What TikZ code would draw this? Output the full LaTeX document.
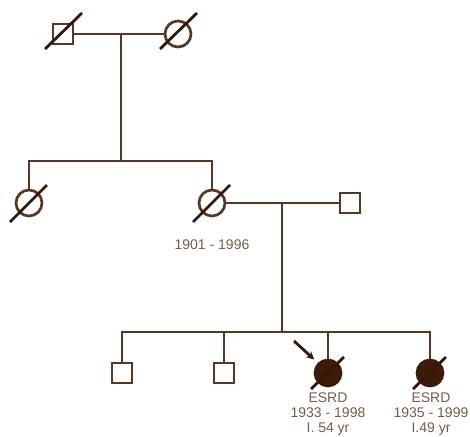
\documentclass[tikz,border=0pt]{standalone}
\usepackage{fontspec}
\setmainfont{Liberation Sans}
\usetikzlibrary{arrows.meta}
\definecolor{ln}{RGB}{88,56,34}
\definecolor{sl}{RGB}{50,24,10}
\definecolor{fillb}{RGB}{62,26,8}
\definecolor{txt}{RGB}{120,90,72}
\begin{document}
\begin{tikzpicture}[x=1pt,y=-1pt,
  male/.style={draw=ln, line width=2.7pt, fill=white, minimum size=20pt, inner sep=0pt, shape=rectangle},
  female/.style={draw=ln, line width=2.7pt, fill=white, minimum size=26pt, inner sep=0pt, shape=circle},
  affected/.style={female, fill=fillb, draw=fillb},
  lbl/.style={text=txt, font=\fontsize{14}{15}\selectfont, align=center, inner sep=0pt},
  link/.style={draw=ln, line width=2.7pt},
  slash/.style={draw=sl, line width=2.8pt}
]
\useasboundingbox (0,0) rectangle (470,436);
% generation I
\node[male] (m1) at (63,34) {};
\node[female] (f1) at (178,34) {};
% generation II
\node[female] (f2) at (29,203) {};
\node[female] (f3) at (212,203) {};
\node[male] (m2) at (350,203) {};
% generation III
\node[male] (s1) at (122,373) {};
\node[male] (s2) at (224,373) {};
\node[affected] (d1) at (328,373) {};
\node[affected] (d2) at (430,373) {};
% connector points
\coordinate (c1) at (121,34);
\coordinate (c1b) at (121,161);
\coordinate (c2) at (282,203);
\coordinate (c2b) at (282,332);
% lines
\draw[link] (m1.east) -- (f1.west);
\draw[link] (c1) -- (c1b);
\draw[link] (c1b) -| (f2.north);
\draw[link] (c1b) -| (f3.north);
\draw[link] (f3.east) -- (m2.west);
\draw[link] (c2) -- (c2b);
\draw[link] (c2b) -| (s1.north);
\draw[link] (c2b) -| (s2.north);
\draw[link] (c2b) -| (d1.north);
\draw[link] (c2b) -| (d2.north);
% deceased slashes
\draw[slash] (m1.center) ++(-18,15) -- ++(37,-36);
\draw[slash] (f1.center) ++(-18,15) -- ++(37,-36);
\draw[slash] (f2.center) ++(-19,19) -- ++(37,-37);
\draw[slash] (f3.center) ++(-19,19) -- ++(37,-37);
\draw[slash] (d1.center) ++(-17,16) -- ++(33,-32);
\draw[slash] (d2.center) ++(-17,16) -- ++(33,-32);
% proband arrow
\coordinate (a0) at (294,341);
\draw[draw=sl, line width=2.8pt, shorten >=5pt, -{Stealth[length=8pt,width=8pt]}] (a0) -- (d1.north west);
% labels
\node[lbl] (t1) at (212,245) {1901 - 1996};
\node[lbl, anchor=north] (t2) at (328,393) {ESRD\\1933 - 1998\\I. 54 yr};
\node[lbl, anchor=north] (t3) at (431,393) {ESRD\\1935 - 1999\\I.49 yr};
\end{tikzpicture}
\end{document}
